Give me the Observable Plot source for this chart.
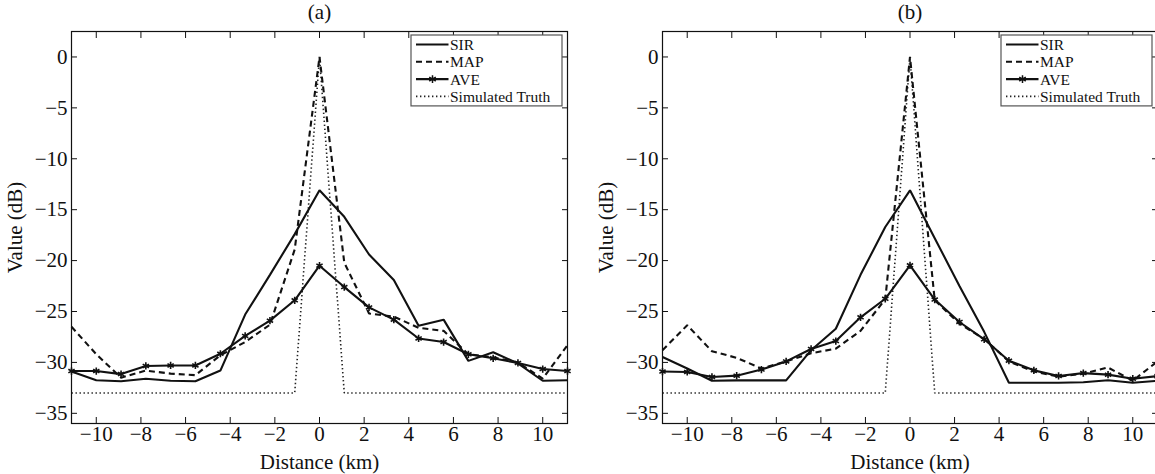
<!DOCTYPE html>
<html><head><meta charset="utf-8">
<script src="https://cdn.jsdelivr.net/npm/d3@7"></script>
<script src="https://cdn.jsdelivr.net/npm/@observablehq/plot@0.6"></script>
<style>
html,body{margin:0;padding:0;background:#fff;}
#wrap{position:relative;width:1155px;height:474px;overflow:hidden;display:flex;}
.panel{position:relative;flex:none;}
.panel svg{display:block;}
#wrap .panel > svg.chart, #wrap .panel > svg.chart text {
  font-family: 'Liberation Serif', 'Times New Roman', serif !important;
  font-size: 21px !important;
}
#wrap svg.legend, #wrap svg.legend text {
  font-family: 'Liberation Serif', 'Times New Roman', serif !important;
  font-size: 15.5px !important;
}
.legend{position:absolute;}
</style></head><body><div id="wrap"></div>
<script>
// ---- data ----
const distanceKm = [-11.11, -10, -8.89, -7.78, -6.67, -5.56, -4.44, -3.33, -2.22, -1.11, 0, 1.11, 2.22, 3.33, 4.44, 5.56, 6.67, 7.78, 8.89, 10, 11.11];

const sirA   = [-30.9, -31.75, -31.85, -31.6, -31.8, -31.85, -30.8, -25.3, -21.4, -17.4, -13.1, -15.7, -19.4, -21.9, -26.4, -25.8, -29.85, -29.0, -30.1, -31.8, -31.75];
const mapA   = [-26.5, -29.2, -31.5, -30.8, -31.1, -31.25, -29.3, -28.0, -26.3, -18.9, 0, -20.2, -25.2, -25.5, -26.6, -26.9, -29.2, -29.5, -30.0, -31.6, -28.3];
const aveA   = [-30.85, -30.85, -31.15, -30.35, -30.3, -30.3, -29.15, -27.4, -25.9, -23.9, -20.5, -22.6, -24.6, -25.8, -27.65, -28.0, -29.2, -29.6, -30.05, -30.65, -30.85];
const truthA = [-33, -33, -33, -33, -33, -33, -33, -33, -33, -33, 0, -33, -33, -33, -33, -33, -33, -33, -33, -33, -33];

const sirB   = [-29.47, -30.6, -31.8, -31.76, -31.76, -31.76, -28.8, -26.7, -21.4, -16.7, -13.1, -17.8, -22.5, -27.0, -32.0, -32.0, -32.0, -31.95, -31.75, -32.0, -31.8];
const mapB   = [-28.8, -26.35, -28.9, -29.55, -30.6, -29.9, -29.1, -28.65, -26.9, -23.8, 0, -23.9, -26.2, -27.7, -29.9, -30.9, -31.4, -31.1, -30.5, -31.8, -29.9];
const aveB   = [-30.9, -30.94, -31.43, -31.3, -30.7, -29.9, -28.68, -27.9, -25.57, -23.75, -20.46, -23.83, -26.03, -27.73, -29.83, -30.78, -31.33, -31.05, -31.2, -31.6, -31.35];
const truthB = [-33, -33, -33, -33, -33, -33, -33, -33, -33, -33, 0, -33, -33, -33, -33, -33, -33, -33, -33, -33, -33];

const xTicks = [-10, -8, -6, -4, -2, 0, 2, 4, 6, 8, 10];
const yTicks = [-35, -30, -25, -20, -15, -10, -5, 0];
const seriesNames = ["SIR", "MAP", "AVE", "Simulated Truth"];
const panelTitles = ["(a)", "(b)"];
const xLabel = "Distance (km)";
const yLabel = "Value (dB)";

// ---- styling ----
const FONT = "'Liberation Serif', 'Times New Roman', serif";
const INK = "#111";
const lineStyle = {
  "SIR": {stroke: INK, strokeWidth: 2.1, dash: null, marker: false},
  "MAP": {stroke: INK, strokeWidth: 2.1, dash: "6,4", marker: false},
  "AVE": {stroke: INK, strokeWidth: 2.1, dash: null, marker: true},
  "Simulated Truth": {stroke: "#222", strokeWidth: 1.6, dash: "1.4,2.6", marker: false}
};

function rows(vals) { return distanceKm.map((x, i) => ({x, y: vals[i]})); }

function makePanel(title, seriesVals, layout) {
  const order = ["Simulated Truth", "MAP", "SIR", "AVE"];
  const marks = [];
  for (const name of order) {
    const st = lineStyle[name];
    const data = rows(seriesVals[name]);
    marks.push(Plot.line(data, {x: "x", y: "y", stroke: st.stroke, strokeWidth: st.strokeWidth,
      strokeDasharray: st.dash || undefined, strokeLinejoin: "miter", strokeLinecap: "butt"}));
    if (st.marker) {
      marks.push(Plot.dot(data, {x: "x", y: "y", symbol: "asterisk", r: 3.4, stroke: st.stroke, strokeWidth: 1.6}));
    }
  }
  marks.push(
    Plot.frame({stroke: INK, strokeWidth: 1.2}),
    Plot.axisX({ticks: xTicks, anchor: "bottom", tickSize: 0, tickPadding: 3, label: xLabel, labelAnchor: "center", labelOffset: 45, labelArrow: "none"}),
    Plot.axisX({ticks: xTicks, anchor: "bottom", tickSize: -6, fill: "none"}),
    Plot.axisX({ticks: xTicks, anchor: "top", tickSize: -6, fill: "none"}),
    Plot.axisX({ticks: [], anchor: "top", tickSize: 0, label: title, labelAnchor: "center", labelOffset: 27, labelArrow: "none"}),
    Plot.axisY({ticks: yTicks, anchor: "left", tickSize: 0, tickPadding: 4, label: yLabel, labelAnchor: "center", labelOffset: 64, labelArrow: "none"}),
    Plot.axisY({ticks: yTicks, anchor: "left", tickSize: -6, fill: "none"}),
    Plot.axisY({ticks: yTicks, anchor: "right", tickSize: -6, fill: "none"})
  );
  const chart = Plot.plot({
    width: layout.width, height: 474,
    marginLeft: layout.marginLeft, marginRight: layout.marginRight, marginTop: 31, marginBottom: 51,
    x: {domain: [-11.11, 11.11]},
    y: {domain: [-36, 2.5]},
    style: {fontFamily: FONT, fontSize: "21px", color: INK, background: "#fff", overflow: "visible"},
    marks
  });
  chart.classList.add("chart");
  const div = document.createElement("div");
  div.className = "panel";
  div.style.width = layout.width + "px";
  div.appendChild(chart);

  // legend (inside top-right corner of the plot frame)
  const lw = 151, rowGap = 17.3, lh = 9.5 + 3 * rowGap + 9.5;
  const left = layout.width - layout.marginRight - 5.5 - lw;
  const top = 35;
  const svg = d3.create("svg").attr("class", "legend").attr("width", lw + 2).attr("height", lh + 2)
    .style("left", (left - 1) + "px").style("top", (top - 1) + "px");
  const g = svg.append("g").attr("transform", "translate(1,1)");
  g.append("rect").attr("x", 0).attr("y", 0).attr("width", lw).attr("height", lh)
    .attr("fill", "#fff").attr("stroke", "#555").attr("stroke-width", 1.2);
  seriesNames.forEach((name, i) => {
    const st = lineStyle[name];
    const ry = 9.5 + i * rowGap;
    g.append("line").attr("x1", 5).attr("x2", 37.5).attr("y1", ry).attr("y2", ry)
      .attr("stroke", st.stroke).attr("stroke-width", st.strokeWidth)
      .attr("stroke-dasharray", st.dash || null);
    if (st.marker) {
      g.append("path").attr("d", d3.symbol(d3.symbolAsterisk, 40)())
        .attr("transform", `translate(21.5,${ry})`).attr("stroke", st.stroke).attr("stroke-width", 1.5).attr("fill", "none");
    }
    g.append("text").attr("x", 39).attr("y", ry + 5.4).text(name)
      .attr("font-family", FONT).attr("font-size", "15.5px").attr("fill", INK);
  });
  div.appendChild(svg.node());
  return div;
}

const wrap = document.getElementById("wrap");
wrap.appendChild(makePanel(panelTitles[0], {"SIR": sirA, "MAP": mapA, "AVE": aveA, "Simulated Truth": truthA},
  {width: 590, marginLeft: 71, marginRight: 23}));
wrap.appendChild(makePanel(panelTitles[1], {"SIR": sirB, "MAP": mapB, "AVE": aveB, "Simulated Truth": truthB},
  {width: 570, marginLeft: 72, marginRight: 3}));
</script>
</body></html>
